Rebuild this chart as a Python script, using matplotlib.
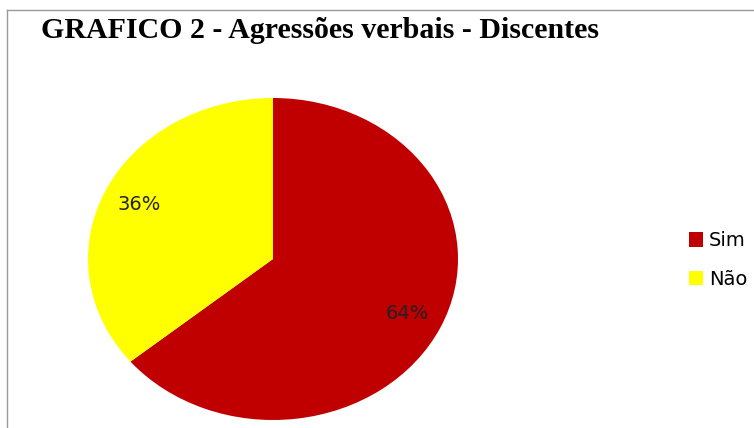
import matplotlib
matplotlib.use("Agg")
from matplotlib import pyplot as plt
from matplotlib.lines import Line2D

# Data
labels = ["Sim", "Não"]
values = [64, 36]
colors = ["#C00000", "#FFFF00"]
title = "GRAFICO 2 - Agressões verbais - Discentes"

W, H = 754, 428
fig = plt.figure(figsize=(W / 100, H / 100), dpi=100)

# frame border (partly cropped at right/bottom)
fig.add_artist(Line2D([7 / W, 1], [1 - 10 / H, 1 - 10 / H], color="#999999", lw=1))
fig.add_artist(Line2D([7 / W, 7 / W], [0, 1 - 10 / H], color="#999999", lw=1))

fig.text(41 / W, 1 - 30 / H, title, fontfamily="Liberation Serif", fontweight="bold",
         fontsize=21.5, va="center", ha="left")

# elliptical pie
ax = fig.add_axes([88 / W, 8 / H, 370 / W, 322 / H])
wedges, texts, autotexts = ax.pie(values, colors=colors, startangle=90, counterclock=False,
                                  autopct="%1.0f%%", pctdistance=0.8,
                                  textprops={"fontsize": 14, "color": "#222222"})
ax.set_aspect("auto")
ax.set_xlim(-1, 1)
ax.set_ylim(-1, 1)
ax.axis("off")

fig.legend(wedges, labels, loc="center left", bbox_to_anchor=(671 / W, 1 - 260 / H),
           frameon=False, fontsize=14, handlelength=0.75, handleheight=0.75,
           labelspacing=1.0, handletextpad=0.3)

fig.savefig("out.png", dpi=100)
